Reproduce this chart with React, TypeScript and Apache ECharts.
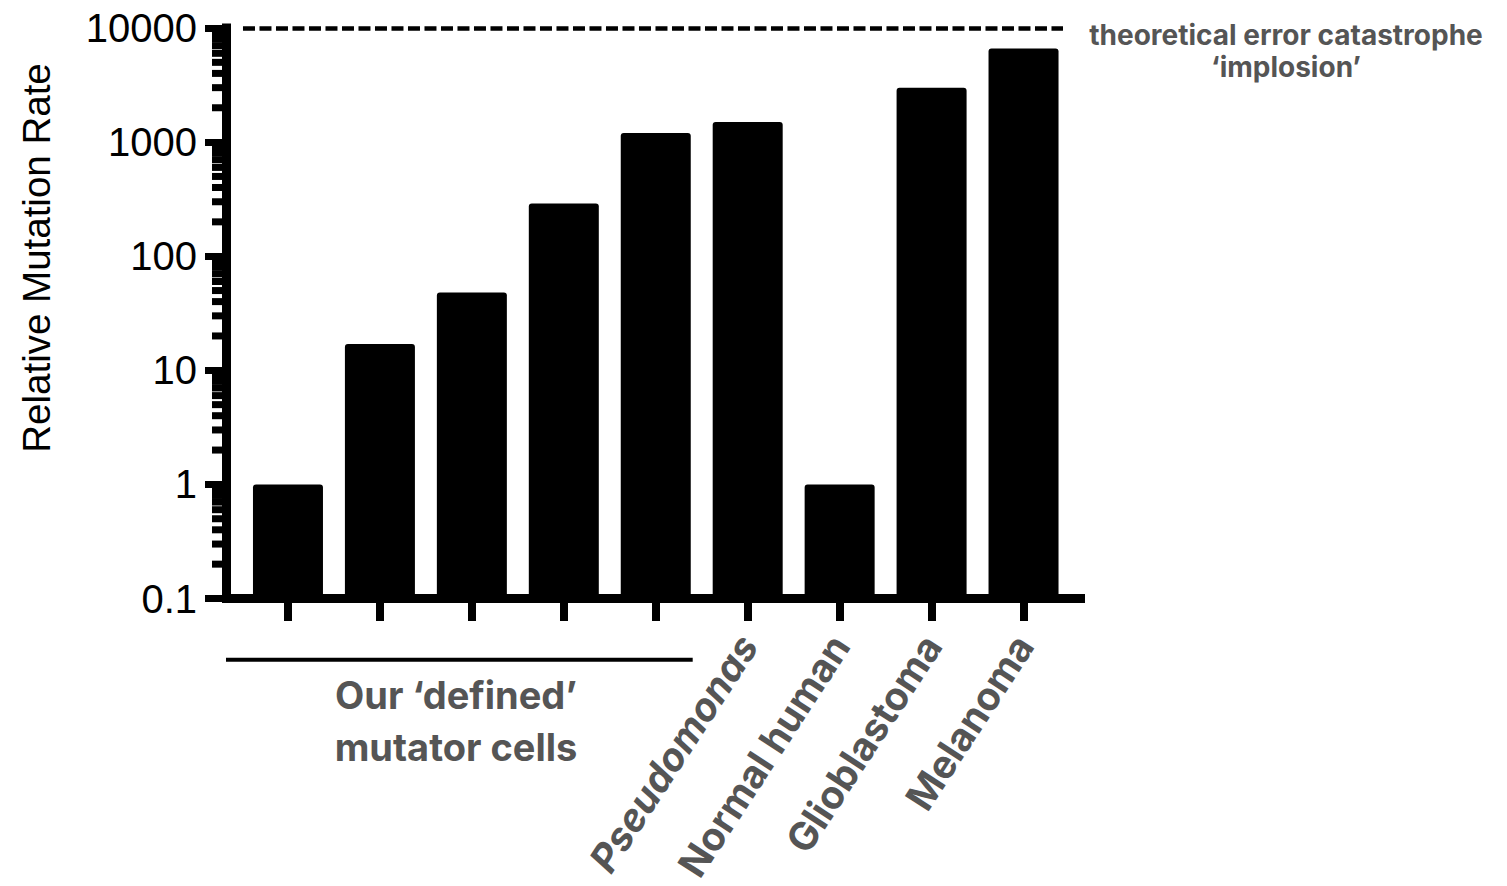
import { useEffect, useRef } from "react";
import * as echarts from "echarts";

// Bars: five engineered mutator lines, then reference organisms / tumours
const categories = [
  "Mutator line 1",
  "Mutator line 2",
  "Mutator line 3",
  "Mutator line 4",
  "Mutator line 5",
  "Pseudomonas",
  "Normal human",
  "Glioblastoma",
  "Melanoma",
];
const unlabelledCategories = categories.slice(0, 5);
const italicCategories = ["Pseudomonas"];

// Relative mutation rate (normal human = 1)
const mutationRates = [1, 17, 48, 290, 1200, 1500, 1, 3000, 6600];

// Log axis range and the error-catastrophe threshold
const yMin = 0.1;
const yMax = 10000;
const catastropheLevel = 10000;

// Minor tick positions on the log axis: 2..9 within each decade
const decades = [0.1, 1, 10, 100, 1000];
const minorMultipliers = [2, 3, 4, 5, 6, 7, 8, 9];

const GRAY = "#555555";
const SANS = "'Liberation Sans', Arial, Helvetica, sans-serif";
const BOLD_SANS = "Inter, 'Liberation Sans', Arial, sans-serif";
const BAR_WIDTH = 70;

export default function App() {
  const ref = useRef<HTMLDivElement>(null);

  useEffect(() => {
    if (!ref.current) return;
    const chart = echarts.init(ref.current, undefined, { renderer: "svg" });

    const minorTicks: number[][] = [];
    decades.forEach((d) =>
      minorMultipliers.forEach((m) => minorTicks.push([0, +(d * m).toPrecision(3)]))
    );

    const option: echarts.EChartsOption = {
      animation: false,
      backgroundColor: "#ffffff",
      grid: [
        // frame grid: carries the axis lines, y ticks and labels
        { left: 226.5, right: 426.5, top: 28, bottom: 287.5 },
        // bar grid
        { left: 242, right: 437.5, top: 28, bottom: 287.5 },
      ],
      xAxis: [
        {
          gridIndex: 0,
          type: "value",
          min: 0,
          max: 100,
          axisLine: {
            show: true,
            lineStyle: { color: "#000", width: 9, cap: "square" },
          },
          axisTick: { show: false },
          axisLabel: { show: false },
          splitLine: { show: false },
        },
        {
          gridIndex: 1,
          type: "category",
          data: categories.map((c) =>
            italicCategories.includes(c)
              ? { value: c, textStyle: { fontStyle: "italic" } }
              : c
          ),
          axisLine: { show: false },
          axisTick: {
            show: true,
            alignWithLabel: true,
            interval: 0,
            length: 22.5,
            lineStyle: { color: "#000", width: 8 },
          },
          axisLabel: {
            interval: 0,
            rotate: 57,
            margin: 40,
            fontSize: 39,
            fontWeight: "bold",
            fontFamily: BOLD_SANS,
            color: GRAY,
            formatter: (v: string) => (unlabelledCategories.includes(v) ? "" : v),
          },
          splitLine: { show: false },
        },
      ],
      yAxis: [
        {
          gridIndex: 0,
          type: "log",
          logBase: 10,
          min: yMin,
          max: yMax,
          splitNumber: 5,
          axisLine: {
            show: true,
            lineStyle: { color: "#000", width: 9, cap: "square" },
          },
          axisTick: {
            show: true,
            length: 21.5,
            lineStyle: { color: "#000", width: 7 },
          },
          axisLabel: {
            margin: 29.5,
            fontSize: 40,
            color: "#000",
            fontFamily: SANS,
            formatter: (v: number) => (v < 1 ? String(v) : String(Math.round(v))),
          },
          splitLine: { show: false },
        },
        {
          gridIndex: 1,
          type: "log",
          logBase: 10,
          min: yMin,
          max: yMax,
          show: false,
        },
      ],
      series: [
        {
          // bars rise from the bottom of the log axis
          type: "custom",
          xAxisIndex: 1,
          yAxisIndex: 1,
          data: mutationRates.map((v, i) => [i, v]),
          encode: { x: 0, y: 1 },
          silent: true,
          renderItem: (_params: any, api: any) => {
            const top = api.coord([api.value(0), api.value(1)]);
            const base = api.coord([api.value(0), yMin]);
            return {
              type: "rect",
              shape: {
                x: top[0] - BAR_WIDTH / 2,
                y: top[1],
                width: BAR_WIDTH,
                height: base[1] - top[1],
                r: [3, 3, 0, 0],
              },
              style: { fill: "#000" },
            };
          },
        },
        {
          // log-decade minor ticks on the y axis
          type: "custom",
          xAxisIndex: 0,
          yAxisIndex: 0,
          data: minorTicks,
          silent: true,
          clip: false,
          renderItem: (_params: any, api: any) => {
            const p = api.coord([api.value(0), api.value(1)]);
            return {
              type: "line",
              shape: { x1: p[0] - 14.5, y1: p[1], x2: p[0], y2: p[1] },
              style: { stroke: "#000", lineWidth: 7 },
            };
          },
          markLine: {
            silent: true,
            symbol: "none",
            label: { show: false },
            lineStyle: { color: "#000", width: 4.5, type: [12, 4.5] },
            data: [
              [
                { coord: [1.93, catastropheLevel] },
                { coord: [97.95, catastropheLevel] },
              ],
            ],
          },
        },
      ],
      graphic: [
        {
          type: "text",
          x: 36,
          y: 258,
          rotation: Math.PI / 2,
          style: {
            text: "Relative Mutation Rate",
            fill: "#000",
            font: `38.5px ${SANS}`,
            align: "center",
            verticalAlign: "middle",
          },
          silent: true,
        },
        {
          type: "line",
          shape: { x1: 226, y1: 659.7, x2: 692.7, y2: 659.7 },
          style: { stroke: "#000", lineWidth: 4 },
          silent: true,
        },
        {
          type: "text",
          x: 456,
          y: 720.7,
          style: {
            text: "Our \u2018defined\u2019\nmutator cells",
            fill: GRAY,
            font: `bold 38px ${BOLD_SANS}`,
            lineHeight: 52,
            align: "center",
            verticalAlign: "middle",
          },
          silent: true,
        },
        {
          type: "text",
          x: 1286,
          y: 51,
          style: {
            text: "theoretical error catastrophe\n\u2018implosion\u2019",
            fill: GRAY,
            font: `bold 28px ${BOLD_SANS}`,
            lineHeight: 32,
            align: "center",
            verticalAlign: "middle",
          },
          silent: true,
        },
      ],
    };

    chart.setOption(option);
    return () => chart.dispose();
  }, []);

  return (
    <div
      ref={ref}
      style={{ position: "fixed", left: 0, top: 0, width: 1507, height: 886, background: "#fff" }}
    />
  );
}
